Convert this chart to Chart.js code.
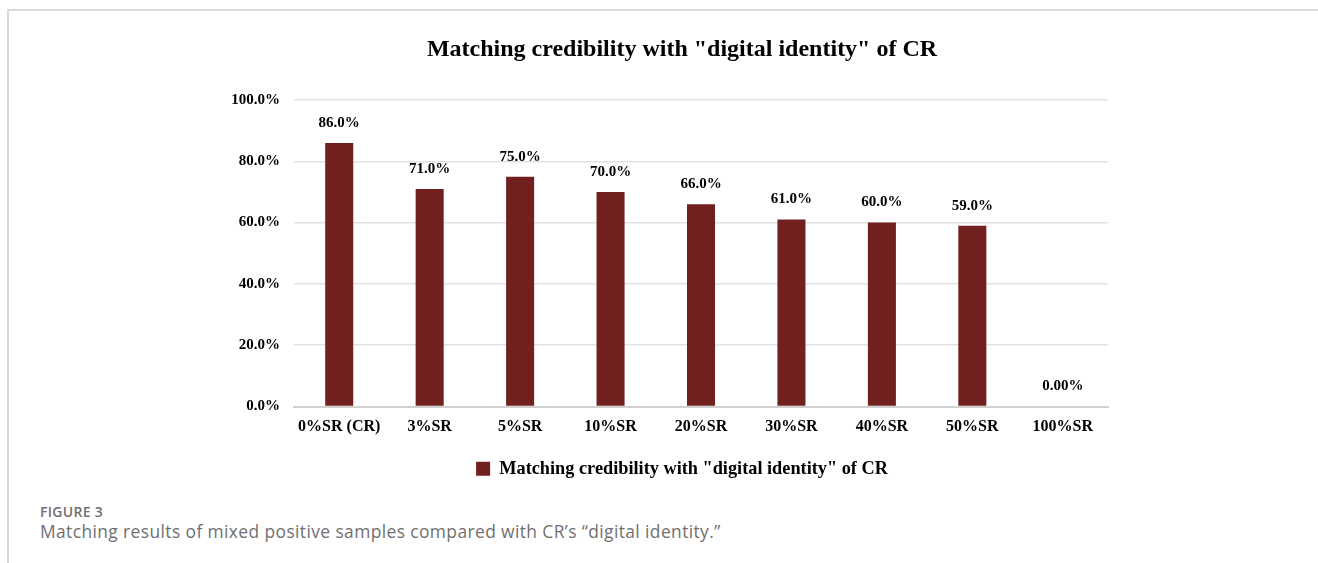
<!DOCTYPE html>
<html>
<head>
<meta charset="utf-8">
<script src="https://cdn.jsdelivr.net/npm/chart.js@4.4.1/dist/chart.umd.min.js"></script>
<style>
  html, body { margin: 0; padding: 0; background: #fff; }
  body { width: 1318px; height: 563px; position: relative; overflow: hidden; }
  #frame { position: absolute; left: 7px; top: 9px; right: 0; bottom: 0;
           border-top: 2px solid #dadada; border-left: 2px solid #dadada; }
  #wrap { position: absolute; left: 0; top: 0; width: 1318px; height: 490px; }
  .fig { position: absolute; left: 40px; font-family: "Open Sans", sans-serif; color: #707070; }
  #figno { top: 502px; font-size: 14px; font-weight: 600; letter-spacing: 0.3px; }
  #figtxt { top: 519px; font-size: 17.4px; letter-spacing: 0.4px; }
</style>
</head>
<body>
<div id="frame"></div>
<div id="wrap"><canvas id="grafico"></canvas></div>
<div class="fig" id="figno">FIGURE 3</div>
<div class="fig" id="figtxt">Matching results of mixed positive samples compared with CR’s “digital identity.”</div>
<script>
const categorias = ['0%SR (CR)', '3%SR', '5%SR', '10%SR', '20%SR', '30%SR', '40%SR', '50%SR', '100%SR'];
const valores = [86, 71, 75, 70, 66, 61, 60, 59, 0];
const rotulosValores = ['86.0%', '71.0%', '75.0%', '70.0%', '66.0%', '61.0%', '60.0%', '59.0%', '0.00%'];
const rotulosEixoY = ['0.0%', '20.0%', '40.0%', '60.0%', '80.0%', '100.0%'];
const nomeSerie = 'Matching credibility with "digital identity" of CR';

const fonte = '"Liberation Serif", "Times New Roman", serif';

// rotulos em cima das barras
const rotulosPlugin = {
  id: 'rotulos',
  afterDatasetsDraw(chart) {
    const ctx = chart.ctx;
    const meta = chart.getDatasetMeta(0);
    ctx.save();
    ctx.font = 'bold 15px ' + fonte;
    ctx.fillStyle = '#000';
    ctx.textAlign = 'center';
    ctx.textBaseline = 'middle';
    meta.data.forEach((barra, i) => {
      ctx.fillText(rotulosValores[i], barra.x, barra.y - 20);
    });
    ctx.restore();
  },
};

const ctx = document.getElementById('grafico').getContext('2d');
const meuGrafico = new Chart(ctx, {
  type: 'bar',
  data: {
    labels: categorias,
    datasets: [
      {
        label: nomeSerie,
        data: valores,
        backgroundColor: '#71201f',
        borderWidth: 0,
        barPercentage: 0.31,
        categoryPercentage: 1,
      },
    ],
  },
  options: {
    responsive: true,
    maintainAspectRatio: false,
    animation: false,
    layout: { padding: { left: 256, right: 210, top: 0, bottom: 2 } },
    plugins: {
      title: {
        display: true,
        text: 'Matching credibility with "digital identity" of CR',
        color: '#000',
        font: { family: fonte, size: 24, weight: 'bold' },
        padding: { top: 35.6, bottom: 35.6 },
      },
      legend: {
        position: 'bottom',
        labels: {
          color: '#000',
          font: { family: fonte, size: 18.3, weight: 'bold' },
          boxWidth: 14,
          boxHeight: 14,
          padding: 10,
        },
      },
      tooltip: { enabled: false },
    },
    scales: {
      x: {
        afterFit: (s) => { s.height += 2; },
        grid: { display: false, drawTicks: false },
        border: { display: true, color: '#d0d0d0', width: 2 },
        ticks: {
          color: '#000',
          padding: 11,
          font: { family: fonte, size: 16, weight: 'bold' },
        },
      },
      y: {
        min: 0,
        max: 100,
        afterFit: (s) => {
          s.width = 38;
          // rotulos passam da caixa do eixo, nao cortar
          s._computeLabelArea = () => null;
        },
        border: { display: false },
        grid: {
          drawTicks: false,
          color: (c) => (c.tick && c.tick.value === 0 ? 'rgba(0,0,0,0)' : '#e2e2e2'),
          lineWidth: 1.5,
        },
        ticks: {
          stepSize: 20,
          padding: 14,
          color: '#000',
          font: { family: fonte, size: 15, weight: 'bold' },
          callback: (v, i) => rotulosEixoY[i],
        },
      },
    },
  },
  plugins: [rotulosPlugin],
});
</script>
</body>
</html>
